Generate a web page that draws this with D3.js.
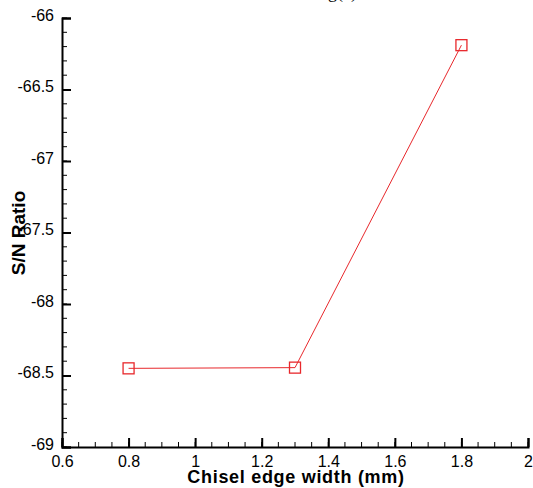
<!DOCTYPE html>
<html>
<head>
<meta charset="UTF-8" />
<script src="https://d3js.org/d3.v7.min.js"></script>
<style>
  body { margin: 0; background: #fff; }
  text { font-family: "Liberation Sans", Arial, sans-serif; }
</style>
</head>
<body>
<script>
// dati
const widths = [0.8, 1.3, 1.8];
const snRatio = [-68.45, -68.445, -66.19];
const xTicks = [0.6, 0.8, 1, 1.2, 1.4, 1.6, 1.8, 2];
const yTicks = [-66, -66.5, -67, -67.5, -68, -68.5, -69];

const W = 533, H = 488;
const svg = d3.select("body").append("svg")
  .attr("width", W)
  .attr("height", H);

const x = d3.scaleLinear().domain([0.6, 2]).range([62, 528]);
const y = d3.scaleLinear().domain([-69, -66]).range([447, 18]);

// titolo tagliato in alto
svg.append("text")
  .attr("x", 335)
  .attr("y", -2)
  .attr("text-anchor", "middle")
  .style("font-family", "'Liberation Serif', 'Times New Roman', serif")
  .style("font-size", "18px")
  .text("Fig(e)");

// tick minori
const xMinor = d3.range(0.6, 2.0001, 0.05);
const yMinor = d3.range(-69, -65.9999, 0.1);

svg.append("g").selectAll("line")
  .data(xMinor)
  .enter().append("line")
  .attr("x1", d => x(d)).attr("x2", d => x(d))
  .attr("y1", 447).attr("y2", 442)
  .attr("stroke", "#000").attr("stroke-width", 1);

svg.append("g").selectAll("line")
  .data(yMinor)
  .enter().append("line")
  .attr("x1", 62).attr("x2", 67)
  .attr("y1", d => y(d)).attr("y2", d => y(d))
  .attr("stroke", "#000").attr("stroke-width", 1);

// assi (trattino normale come nel riferimento)
const fmt = d => d3.format("~g")(d).replace("\u2212", "-");
const xAxis = d3.axisBottom(x).tickValues(xTicks).tickSize(-9).tickPadding(12)
  .tickFormat(fmt);
const yAxis = d3.axisLeft(y).tickValues(yTicks).tickSize(-9).tickPadding(8)
  .tickFormat(fmt);

const gx = svg.append("g")
  .attr("transform", "translate(0,447)")
  .call(xAxis);
const gy = svg.append("g")
  .attr("transform", "translate(62,0)")
  .call(yAxis);

[gx, gy].forEach(g => {
  g.select(".domain").attr("stroke", "#000").attr("stroke-width", 2);
  g.selectAll(".tick line").attr("stroke", "#000").attr("stroke-width", 2);
  g.selectAll(".tick text")
    .attr("fill", "#000")
    .style("font-family", "'Liberation Sans', Arial, sans-serif")
    .style("font-size", "16px");
});
gy.selectAll(".tick text").attr("dy", "0.15em");
gx.selectAll(".tick text").attr("dy", "0.5em");

// titoli assi
svg.append("text")
  .attr("x", 296)
  .attr("y", 483)
  .attr("text-anchor", "middle")
  .style("font-size", "18px")
  .style("font-weight", "bold")
  .style("letter-spacing", "0.7px")
  .text("Chisel edge width (mm)");

svg.append("text")
  .attr("transform", "translate(25,233) rotate(-90)")
  .attr("text-anchor", "middle")
  .style("font-size", "19px")
  .style("font-weight", "bold")
  .text("S/N Ratio");

// linea e marcatori
const pts = widths.map((w, i) => ({ w: w, v: snRatio[i] }));

svg.append("path")
  .datum(pts)
  .attr("fill", "none")
  .attr("stroke", "#e8282c")
  .attr("stroke-width", 1)
  .attr("d", d3.line().x(d => x(d.w)).y(d => y(d.v)));

svg.selectAll("rect.mk")
  .data(pts)
  .enter().append("rect")
  .attr("class", "mk")
  .attr("x", d => x(d.w) - 5.5)
  .attr("y", d => y(d.v) - 5.5)
  .attr("width", 11)
  .attr("height", 11)
  .attr("fill", "none")
  .attr("stroke", "#e8282c")
  .attr("stroke-width", 1.3);
</script>
</body>
</html>
